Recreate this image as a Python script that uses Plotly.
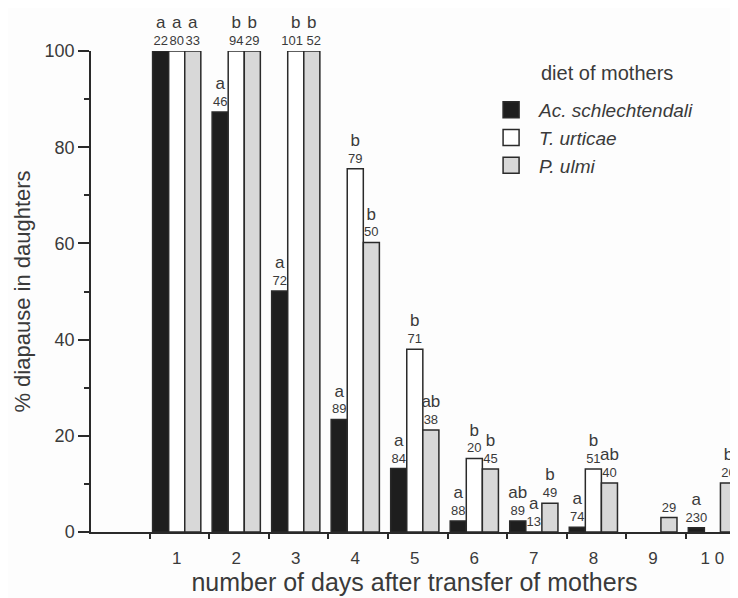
import plotly.graph_objects as go

days = [1, 2, 3, 4, 5, 6, 7, 8, 9, 10]
day_labels = ["1", "2", "3", "4", "5", "6", "7", "8", "9", "1 0"]

series_names = ["<i>Ac. schlechtendali</i>", "<i>T. urticae</i>", "<i>P. ulmi</i>"]
legend_title = "diet of mothers"

ac_values = [100, 87.3, 50.1, 23.4, 13.2, 2.3, 2.3, 1.0, None, 0.9]
ac_letters = ["a", "a", "a", "a", "a", "a", "ab", "a", "", "a"]
ac_n = ["22", "46", "72", "89", "84", "88", "89", "74", "", "230"]

tu_values = [100, 100, 100, 75.5, 38.0, 15.3, 0, 13.1, None, None]
tu_letters = ["a", "b", "b", "b", "b", "b", "a", "b", "", ""]
tu_n = ["80", "94", "101", "79", "71", "20", "13", "51", "", ""]

pu_values = [100, 100, 100, 60.2, 21.2, 13.1, 6.0, 10.2, 3.0, 10.2]
pu_letters = ["a", "b", "b", "b", "ab", "b", "b", "ab", "", "b"]
pu_n = ["33", "29", "52", "50", "38", "45", "49", "40", "29", "20"]

fills = ["#1e1e1e", "#ffffff", "#d8d8d8"]

FONT = "Liberation Sans, Arial, Helvetica, sans-serif"
INK = "#3a3a3a"
LINE = "#2a2a2a"
NBSP = "&nbsp;"


def labels(letters, ns, lpad=None, rpad=None):
    lpad = lpad or {}
    rpad = rpad or {}
    out = []
    for i, (l, n) in enumerate(zip(letters, ns)):
        letter = f"<span style='font-size:17px'>{l}</span>" if l else ""
        num = NBSP * lpad.get(i, 0) + n + NBSP * rpad.get(i, 0) if n else ""
        if l and n:
            out.append(f"{letter}<br>{num}")
        else:
            out.append(num or letter)
    return out


# crowded labels at day 3 (index 2) are nudged apart, as in the original
text_sets = [
    labels(ac_letters, ac_n),
    labels(tu_letters, tu_n, rpad={2: 2}),
    labels(pu_letters, pu_n, lpad={2: 1}),
]

fig = go.Figure()
for name, vals, txt, col in zip(
    series_names,
    [ac_values, tu_values, pu_values],
    text_sets,
    fills,
):
    fig.add_trace(
        go.Bar(
            x=days,
            y=vals,
            name=name,
            showlegend=False,
            text=txt,
            textposition="outside",
            cliponaxis=False,
            constraintext="none",
            textfont=dict(family=FONT, size=13, color=INK),
            marker=dict(color=col, line=dict(color=LINE, width=1.5)),
        )
    )

# legend-only entries with larger square swatches
for name, col in zip(series_names, fills):
    fig.add_trace(
        go.Scatter(
            x=[None],
            y=[None],
            mode="markers",
            name=name,
            marker=dict(symbol="square", size=18, color=col,
                        line=dict(color=LINE, width=1.5)),
        )
    )

fig.add_annotation(
    text=legend_title,
    xref="paper", yref="paper",
    x=0.6924, y=0.954,
    xanchor="left", yanchor="middle",
    showarrow=False,
    font=dict(family=FONT, size=20, color=INK),
)

fig.update_layout(
    width=730,
    height=590,
    margin=dict(l=83, r=0, t=43, b=66),
    barmode="group",
    bargap=0.19,
    bargroupgap=0,
    paper_bgcolor="#fdfdfd",
    plot_bgcolor="#fdfdfd",
    font=dict(family=FONT, color=INK, size=16),
    showlegend=True,
    legend=dict(
        x=0.606,
        y=0.917,
        xanchor="left",
        yanchor="top",
        bgcolor="rgba(0,0,0,0)",
        font=dict(family=FONT, size=19, color=INK),
        tracegroupgap=0,
        itemsizing="trace",
        itemwidth=46,
    ),
    xaxis=dict(
        range=[-0.44, 10.43],
        tickmode="array",
        tickvals=days,
        ticktext=day_labels,
        ticks="outside",
        ticklen=10,
        tickcolor="rgba(0,0,0,0)",
        tickfont=dict(family=FONT, size=17, color=INK),
        showline=True,
        linecolor=LINE,
        linewidth=1.5,
        showgrid=False,
        zeroline=False,
        minor=dict(
            tickmode="array",
            tickvals=[d - 0.45 for d in days],
            ticks="outside",
            ticklen=5,
            tickcolor=LINE,
            tickwidth=1.5,
            showgrid=False,
        ),
        title=dict(text="number of days after transfer of mothers",
                   font=dict(family=FONT, size=25, color=INK), standoff=0),
        automargin=False,
    ),
    yaxis=dict(
        range=[0, 100],
        tickmode="array",
        tickvals=[0, 20, 40, 60, 80, 100],
        ticks="outside",
        ticklen=11,
        tickwidth=1.5,
        tickcolor=LINE,
        tickfont=dict(family=FONT, size=18, color=INK),
        showline=True,
        linecolor=LINE,
        linewidth=1.5,
        showgrid=False,
        zeroline=False,
        minor=dict(
            tickmode="array",
            tickvals=[10, 30, 50, 70, 90],
            ticks="outside",
            ticklen=5,
            tickcolor=LINE,
            tickwidth=1.5,
            showgrid=False,
        ),
        title=dict(text="% diapause in daughters",
                   font=dict(family=FONT, size=22, color=INK), standoff=8),
        automargin=False,
    ),
)

fig.write_html("out.html")
